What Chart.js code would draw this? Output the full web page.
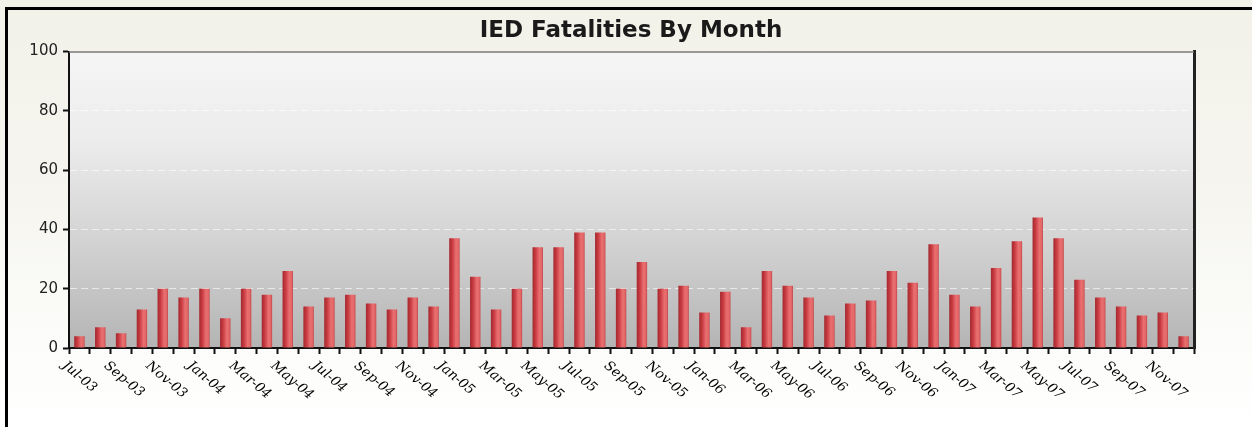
<!DOCTYPE html>
<html>
<head>
<meta charset="utf-8">
<script src="https://cdn.jsdelivr.net/npm/chart.js@4/dist/chart.umd.min.js"></script>
<style>
  html, body { margin: 0; padding: 0; width: 1252px; height: 427px; overflow: hidden; }
  body { background: linear-gradient(180deg, #f3f2e9 0%, #f5f4ee 40%, #fbfbf9 75%, #ffffff 100%); position: relative; }
  .frame { position: absolute; left: 5px; top: 7px; right: -10px; bottom: -10px;
           border-top: 3px solid #000; border-left: 3px solid #000; }
  .wrap { position: absolute; left: 0; top: 0; width: 1252px; height: 427px; }
</style>
</head>
<body>
<div class="frame"></div>
<div class="wrap"><canvas id="c"></canvas></div>
<script>
// ---- data ----
const categories = [
  'Jul-03','Aug-03','Sep-03','Oct-03','Nov-03','Dec-03',
  'Jan-04','Feb-04','Mar-04','Apr-04','May-04','Jun-04','Jul-04','Aug-04','Sep-04','Oct-04','Nov-04','Dec-04',
  'Jan-05','Feb-05','Mar-05','Apr-05','May-05','Jun-05','Jul-05','Aug-05','Sep-05','Oct-05','Nov-05','Dec-05',
  'Jan-06','Feb-06','Mar-06','Apr-06','May-06','Jun-06','Jul-06','Aug-06','Sep-06','Oct-06','Nov-06','Dec-06',
  'Jan-07','Feb-07','Mar-07','Apr-07','May-07','Jun-07','Jul-07','Aug-07','Sep-07','Oct-07','Nov-07','Dec-07'
];
const fatalities = [
  4, 7, 5, 13, 20, 17,
  20, 10, 20, 18, 26, 14, 17, 18, 15, 13, 17, 14,
  37, 24, 13, 20, 34, 34, 39, 39, 20, 29, 20, 21,
  12, 19, 7, 26, 21, 17, 11, 15, 16, 26, 22, 35,
  18, 14, 27, 36, 44, 37, 23, 17, 14, 11, 12, 4
];
// every other month is labelled on the axis
const tickLabels = categories.filter((_, i) => i % 2 === 0);
const yTicks = [0, 20, 40, 60, 80, 100];

const chartTitle = 'IED Fatalities By Month';

// ---- plugins ----
const plotBg = {
  id: 'plotBg',
  beforeDraw(chart) {
    const {ctx, chartArea: a} = chart;
    if (!a) return;
    const g = ctx.createLinearGradient(0, a.top, 0, a.bottom);
    g.addColorStop(0, '#f5f5f5');
    g.addColorStop(0.3, '#ececec');
    g.addColorStop(0.65, '#d2d2d2');
    g.addColorStop(1, '#b4b4b4');
    ctx.save();
    ctx.fillStyle = g;
    ctx.fillRect(a.left, a.top, a.right - a.left, a.bottom - a.top);
    ctx.restore();
  },
  afterDraw(chart) {
    const {ctx, chartArea: a, scales} = chart;
    // top border of plot (grey)
    ctx.save();
    ctx.strokeStyle = '#7a7a7a';
    ctx.lineWidth = 1.5;
    ctx.beginPath();
    ctx.moveTo(a.left, a.top + 0.5);
    ctx.lineTo(a.right, a.top + 0.5);
    ctx.stroke();
    ctx.restore();
    // rotated x labels (clockwise, text starting at the tick)
    const xs = scales.x;
    ctx.save();
    ctx.fillStyle = '#000';
    ctx.font = 'italic 13.5px "DejaVu Serif", "Liberation Serif", serif';
    ctx.textAlign = 'left';
    ctx.textBaseline = 'top';
    categories.forEach((lab, i) => {
      if (!tickLabels.includes(lab)) return;
      const x = xs.getPixelForValue(i);
      ctx.save();
      ctx.translate(x - 11, xs.bottom + 5);
      ctx.rotate(40 * Math.PI / 180);
      ctx.fillText(lab, 0, 0);
      ctx.restore();
    });
    ctx.restore();
  }
};

function barFill(c) {
  const chart = c.chart;
  const xs = chart.scales && chart.scales.x;
  if (!chart.chartArea || !xs || c.dataIndex === undefined) return '#d94a4a';
  const cx = xs.getPixelForValue(c.dataIndex);
  const w = (xs.width / categories.length) * 0.48;
  const g = chart.ctx.createLinearGradient(cx - w / 2, 0, cx + w / 2, 0);
  g.addColorStop(0, '#a52a30');
  g.addColorStop(0.3, '#c93c42');
  g.addColorStop(0.65, '#e96f70');
  g.addColorStop(0.9, '#e26666');
  g.addColorStop(1, '#c44649');
  return g;
}

new Chart(document.getElementById('c'), {
  type: 'bar',
  data: {
    labels: categories,
    datasets: [{
      label: 'IED Fatalities',
      data: fatalities,
      backgroundColor: barFill,
      borderWidth: 0,
      categoryPercentage: 1.0,
      barPercentage: 0.5
    }]
  },
  options: {
    responsive: true,
    maintainAspectRatio: false,
    devicePixelRatio: 1,
    animation: false,
    layout: { padding: { left: 24, right: 14, top: 0, bottom: 73 } },
    plugins: {
      legend: { display: false },
      tooltip: { enabled: false },
      title: {
        display: true,
        text: chartTitle,
        color: '#1a1a1a',
        font: { family: '"DejaVu Sans", Arial, sans-serif', size: 23, weight: 'bold' },
        padding: { top: 17, bottom: 7 }
      }
    },
    scales: {
      x: {
        type: 'category',
        offset: true,
        ticks: { display: false, autoSkip: false },
        grid: {
          offset: true,
          drawOnChartArea: false,
          drawTicks: true,
          tickLength: 6,
          tickColor: '#111',
          tickWidth: 2,
          color: '#111'
        },
        border: { display: true, color: '#111', width: 2 }
      },
      y: {
        min: 0,
        max: 100,
        afterBuildTicks(s) { s.ticks = yTicks.map(v => ({ value: v })); },
        afterFit(s) { s.width = 45; },
        ticks: {
          color: '#222',
          padding: 5,
          font: { family: '"DejaVu Sans", Arial, sans-serif', size: 15 }
        },
        grid: {
          color: c => (c.tick && (c.tick.value === 0 || c.tick.value === 100)) ? 'rgba(0,0,0,0)' : 'rgba(255,255,255,0.6)',
          lineWidth: 1,
          tickLength: 6,
          tickColor: '#111',
          tickWidth: 2,
          tickBorderDash: []
        },
        border: { display: true, color: '#111', width: 2, dash: [7, 4] }
      },
      yRight: {
        position: 'right',
        min: 0,
        max: 100,
        afterFit(s) { s.width = 44; },
        ticks: { display: false },
        grid: { display: false, drawOnChartArea: false },
        border: { display: true, color: '#222', width: 3 }
      }
    }
  },
  plugins: [plotBg]
});
</script>
</body>
</html>
